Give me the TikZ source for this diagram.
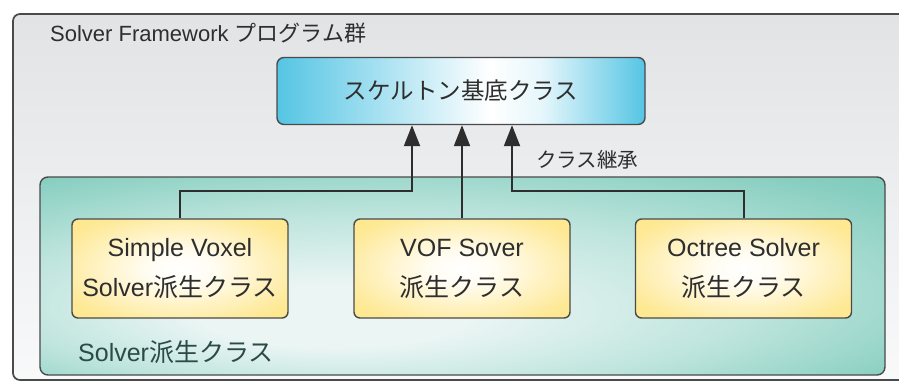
\documentclass[tikz,border=0pt]{standalone}
\usepackage{fontspec}
\setmainfont{Liberation Sans}
\newfontfamily\jp{Noto Sans CJK JP}
\usetikzlibrary{arrows.meta}

\definecolor{framefill}{HTML}{ECEEF0}
\definecolor{frameline}{HTML}{4A4A4A}
\definecolor{cyanbox}{HTML}{55C5E4}
\definecolor{tealbg}{HTML}{70C5B4}
\definecolor{tealpale}{HTML}{EAF5F4}
\definecolor{yellowbox}{HTML}{FEE37A}
\definecolor{inkgray}{HTML}{2E2E2E}
\definecolor{tealtext}{HTML}{2C4A46}

% cyan base-class box: cyan at both ends, white just right of centre
\pgfdeclarehorizontalshading{skelshade}{100bp}{%
  color(0bp)=(cyanbox); color(25bp)=(cyanbox);
  color(54bp)=(white); color(61bp)=(white!85!cyanbox);
  color(75bp)=(cyanbox); color(100bp)=(cyanbox)}
% teal container: pale towards the lower middle, teal at the rim
\pgfdeclareradialshading{tealshade}{\pgfpoint{-9bp}{-12bp}}{%
  color(0bp)=(tealpale); color(8bp)=(tealpale);
  color(22bp)=(tealbg!45!white); color(36bp)=(tealbg!85!white);
  color(50bp)=(tealbg)}
% yellow derived-class boxes: white core, yellow rim
\pgfdeclareradialshading{yellowshade}{\pgfpoint{0bp}{0bp}}{%
  color(0bp)=(white); color(8bp)=(white!90!yellowbox);
  color(30bp)=(yellowbox!80!white); color(50bp)=(yellowbox)}

\tikzset{
  outerframe/.style={draw=frameline, line width=1.7pt, rounded corners=7pt,
    top color=framefill!90!gray, bottom color=framefill!35!white},
  container/.style={draw=frameline, line width=1.4pt, rounded corners=8pt,
    shading=tealshade},
  basebox/.style={draw=frameline, line width=1.4pt, rounded corners=7pt,
    shading=skelshade, minimum width=368pt, minimum height=67pt,
    font=\jp\fontsize{23.5}{26}\selectfont, text=inkgray},
  derivbox/.style={draw=frameline, line width=1.4pt, rounded corners=6pt,
    shading=yellowshade,
    minimum width=216pt, minimum height=99pt, align=center,
    font=\fontsize{25}{40}\selectfont, text=inkgray},
  inherit/.style={draw=inkgray, line width=2pt,
    -{Triangle[length=21pt,width=16pt]}},
  label/.style={inner sep=0pt, text=inkgray}
}

\begin{document}
\begin{tikzpicture}[x=1pt,y=-1pt]
  \useasboundingbox (0,0) rectangle (899,388);
  \clip (0,0) rectangle (899,388);

  % outer program-group frame (runs off the right edge)
  \path[outerframe] (13,14) rectangle (920,380);
  \node[label, anchor=west, font=\fontsize{22}{24}\selectfont]
    (title) at (50,33) {Solver Framework {\jp プログラム群}};

  % derived-class container
  \path[container] (40,177) rectangle (885,375);
  \node[label, anchor=west, text=tealtext, font=\fontsize{25}{28}\selectfont]
    (derivlabel) at (78,352) {Solver{\jp 派生クラス}};

  % base class
  \node[basebox] (base) at (461,91) {スケルトン基底クラス};

  % derived classes
  \node[derivbox] (simple) at (180,268.5) {Simple Voxel\\Solver{\jp 派生クラス}};
  \node[derivbox] (vof)    at (462,268.5) {VOF Sover\\{\jp 派生クラス}};
  \node[derivbox] (octree) at (743.5,268.5) {Octree Solver\\{\jp 派生クラス}};

  % inheritance connectors
  \coordinate (bendL) at (180,191);
  \coordinate (bendR) at (743.5,191);
  \draw[inherit] (simple.north) -- (bendL) -| ([xshift=-49pt]base.south);
  \draw[inherit] (vof.north) -- (vof.north |- base.south);
  \draw[inherit] (octree.north) -- (bendR) -| ([xshift=51pt]base.south);

  \node[label, anchor=west, font=\jp\fontsize{20.5}{24}\selectfont]
    (inh) at (536,160) {クラス継承};
\end{tikzpicture}
\end{document}
